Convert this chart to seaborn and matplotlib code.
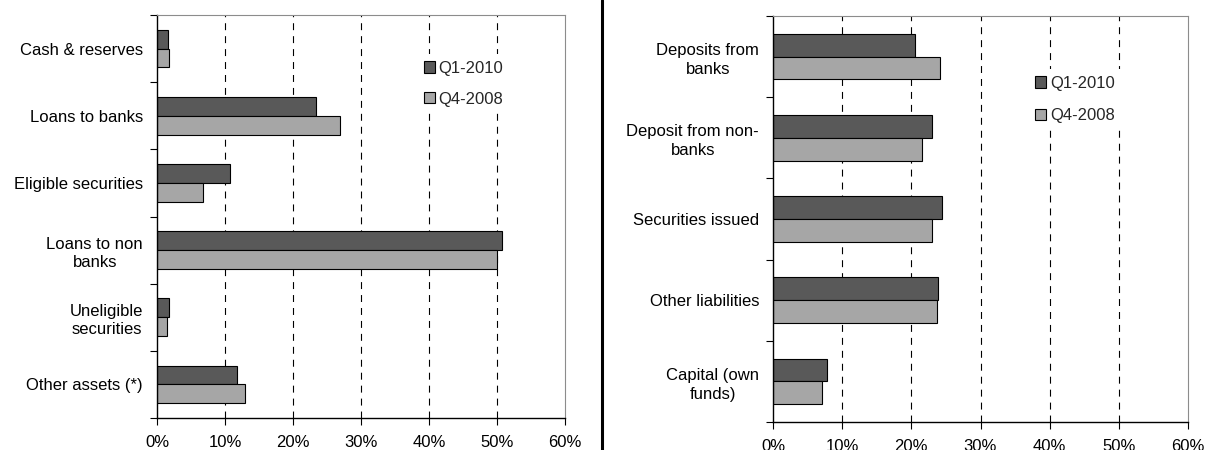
import matplotlib
matplotlib.use("Agg")
import matplotlib.pyplot as plt
from matplotlib.lines import Line2D
import seaborn as sns
import pandas as pd

# Balance-sheet composition, share of total (%)
periods = ["Q1-2010", "Q4-2008"]

asset_categories = ["Cash & reserves", "Loans to banks", "Eligible securities",
                    "Loans to non\nbanks", "Uneligible\nsecurities", "Other assets (*)"]
assets_q1_2010 = [1.6, 23.4, 10.8, 50.7, 1.7, 11.7]
assets_q4_2008 = [1.8, 26.9, 6.7, 50.0, 1.5, 13.0]

liability_categories = ["Deposits from\nbanks", "Deposit from non-\nbanks", "Securities issued",
                        "Other liabilities", "Capital (own\nfunds)"]
liabilities_q1_2010 = [20.6, 23.0, 24.5, 23.9, 7.8]
liabilities_q4_2008 = [24.2, 21.5, 23.0, 23.7, 7.1]

x_ticks = [0, 10, 20, 30, 40, 50, 60]

dark = "#595959"
light = "#a6a6a6"

sns.set_theme(style="white")
plt.rcParams["font.family"] = ["Liberation Sans", "DejaVu Sans"]
FS = 12


def long_frame(cats, q1, q4):
    rows = []
    for c, a, b in zip(cats, q1, q4):
        rows.append({"category": c, "period": periods[0], "share": a})
        rows.append({"category": c, "period": periods[1], "share": b})
    return pd.DataFrame(rows)


def draw_panel(ax, cats, q1, q4, legend_anchor, label_spacing):
    df = long_frame(cats, q1, q4)
    sns.barplot(data=df, x="share", y="category", hue="period", orient="h",
                palette=[dark, light], width=0.56, edgecolor="black",
                linewidth=0.8, saturation=1, ax=ax)
    n = len(cats)
    ax.set_xlim(0, 60)
    ax.set_ylim(n - 0.5, -0.5)
    ax.set_xticks(x_ticks)
    ax.set_xticklabels([f"{v}%" for v in x_ticks], fontsize=FS, color="black")
    ax.set_yticks(range(n))
    ax.set_yticklabels(cats, fontsize=FS, color="black",
                       multialignment="center", linespacing=1.3)
    ax.tick_params(axis="y", which="major", length=0, pad=10)
    ax.set_yticks([i - 0.5 for i in range(n + 1)], minor=True)
    ax.tick_params(axis="y", which="minor", direction="out", length=5,
                   width=0.8, color="black", left=True)
    ax.tick_params(axis="x", which="major", direction="out", length=5,
                   width=0.8, color="black", bottom=True, pad=7)
    ax.set_xlabel("")
    ax.set_ylabel("")
    for xv in x_ticks[1:-1]:
        ax.axvline(xv, color="black", lw=0.8, ls=(0, (6.25, 5.4)), zorder=0)
    for side in ("left", "bottom"):
        ax.spines[side].set_color("black")
        ax.spines[side].set_linewidth(1.0)
    for side in ("top", "right"):
        ax.spines[side].set_color("#8c8c8c")
        ax.spines[side].set_linewidth(0.8)
    handles, labels = ax.get_legend_handles_labels()
    leg = ax.legend(handles, labels, loc="upper left", bbox_to_anchor=legend_anchor,
                    frameon=True, fontsize=FS, handlelength=0.66, handleheight=0.66,
                    handletextpad=0.25, labelspacing=label_spacing, borderpad=0.4,
                    borderaxespad=0, fancybox=False, framealpha=1)
    leg.get_frame().set_facecolor("white")
    leg.get_frame().set_edgecolor("none")
    leg.set_zorder(5)


fig = plt.figure(figsize=(12.06, 4.5), dpi=100)
ax_l = fig.add_axes([157 / 1206, 1 - 418 / 450, 408 / 1206, 403 / 450])
ax_r = fig.add_axes([773 / 1206, 1 - 422 / 450, 415 / 1206, 406 / 450])

draw_panel(ax_l, asset_categories, assets_q1_2010, assets_q4_2008, (0.637, 0.903), 0.95)
draw_panel(ax_r, liability_categories, liabilities_q1_2010, liabilities_q4_2008, (0.615, 0.869), 1.05)

# Vertical divider between the two panels
fig.add_artist(Line2D([602 / 1206, 602 / 1206], [0, 1], color="black", lw=2.2,
                      transform=fig.transFigure))

fig.savefig("out.png", dpi=100)
